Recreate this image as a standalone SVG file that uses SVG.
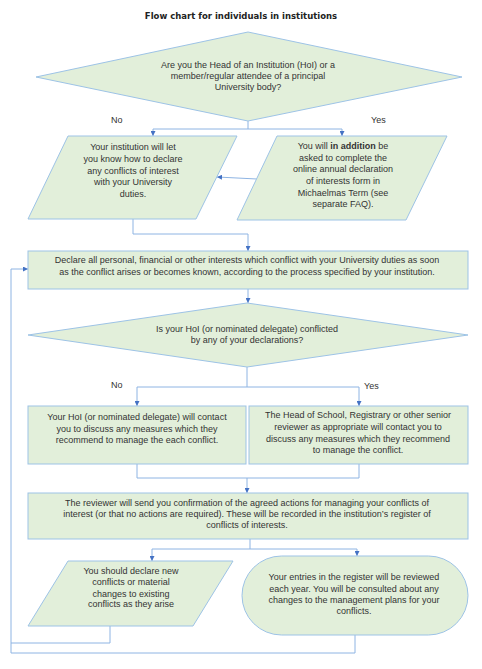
<svg xmlns="http://www.w3.org/2000/svg" width="482" height="669" viewBox="0 0 482 669">
<defs>
<marker id="ah" viewBox="0 0 10 10" refX="10" refY="5" markerWidth="5" markerHeight="5" orient="auto" markerUnits="userSpaceOnUse">
<path d="M0,0 L10,5 L0,10 Z" fill="#4472c4"/>
</marker>
<style>
.n{fill:#e2efda;stroke:#9dc3e6;stroke-width:1}
.t{font-family:"Liberation Sans",Arial,sans-serif;font-size:9px;fill:#333;text-anchor:middle}
.l{font-family:"Liberation Sans",Arial,sans-serif;font-size:9px;fill:#333}
.c{fill:none;stroke:#8eb4e3;stroke-width:1}
.a{marker-end:url(#ah)}
.title{font-family:"DejaVu Sans",Verdana,sans-serif;font-size:8.5px;font-weight:bold;fill:#222;text-anchor:middle}
</style>
</defs>
<rect width="482" height="669" fill="#fff"/>
<text class="title" x="241" y="19">Flow chart for individuals  in institutions</text>

<g id="connectors">
<path class="c" d="M248,121 V129 M153,129 H342"/>
<path class="c a" d="M153,129 V136"/>
<path class="c a" d="M342,129 V136"/>
<path class="c a" d="M257,179 L217,177"/>
<path class="c a" d="M133,219 V234 H248 V251"/>
<path class="c a" d="M248,289 V303"/>
<path class="c" d="M247,367 V387 M137,387 H359"/>
<path class="c a" d="M137,387 V406"/>
<path class="c a" d="M359,387 V406"/>
<path class="c" d="M137,464 V478 H359 V464"/>
<path class="c a" d="M247,478 V493"/>
<path class="c" d="M250,539 V549 M152,549 H357"/>
<path class="c a" d="M152,549 V561"/>
<path class="c a" d="M357,549 V556"/>
<path class="c" d="M110,626 V643 H11"/>
<path class="c a" d="M355,635 V653 H11 V269 H28"/>
</g>

<g id="q1">
<polygon class="n" points="248,32 462,77 248,121 36,77"/>
<text class="t" x="248" y="68">Are you the Head of an Institution (HoI) or a</text>
<text class="t" x="248" y="79">member/regular attendee of a principal</text>
<text class="t" x="248" y="90">University body?</text>
</g>
<text class="l" x="111" y="123">No</text>
<text class="l" x="371" y="123">Yes</text>

<g id="p1">
<polygon class="n" points="68,136 237,136 196,219 28,219"/>
<text class="t" x="133" y="150">Your institution will let</text>
<text class="t" x="133" y="162">you know how to declare</text>
<text class="t" x="133" y="173.5">any conflicts of interest</text>
<text class="t" x="133" y="185">with your University</text>
<text class="t" x="133" y="196.5">duties.</text>
</g>

<g id="p2">
<polygon class="n" points="277,136 447,136 406,220 237,220"/>
<text class="t" x="343" y="148.5">You will <tspan font-weight="bold">in addition</tspan> be</text>
<text class="t" x="343" y="160.5">asked to complete the</text>
<text class="t" x="343" y="172">online annual declaration</text>
<text class="t" x="343" y="184">of interests form in</text>
<text class="t" x="343" y="195.5">Michaelmas Term (see</text>
<text class="t" x="343" y="206.5">separate FAQ).</text>
</g>

<g id="r2">
<rect class="n" x="28" y="251" width="440" height="38"/>
<text class="t" x="247" y="263">Declare all personal, financial or other interests which conflict with your University duties as soon</text>
<text class="t" x="247" y="275">as the conflict arises or becomes known, according to the process specified by your institution.</text>
</g>

<g id="q2">
<polygon class="n" points="247,303 468,335 247,367 28,335"/>
<text class="t" x="247" y="332">Is your HoI (or nominated delegate) conflicted</text>
<text class="t" x="247" y="343">by any of your declarations?</text>
</g>
<text class="l" x="111" y="388">No</text>
<text class="l" x="364" y="389">Yes</text>

<g id="r3a">
<rect class="n" x="28" y="406" width="218" height="58"/>
<text class="t" x="137" y="420">Your HoI (or nominated delegate) will contact</text>
<text class="t" x="137" y="432">you to discuss any measures which they</text>
<text class="t" x="137" y="443">recommend to manage the each conflict.</text>
</g>

<g id="r3b">
<rect class="n" x="249" y="406" width="219" height="58"/>
<text class="t" x="358" y="418">The Head of School, Registrary or other senior</text>
<text class="t" x="358" y="430">reviewer as appropriate will contact you to</text>
<text class="t" x="358" y="442">discuss any measures which they recommend</text>
<text class="t" x="358" y="453">to manage the conflict.</text>
</g>

<g id="r4">
<rect class="n" x="28" y="493" width="440" height="46"/>
<text class="t" x="247" y="506">The reviewer will send you confirmation of the agreed actions for managing your conflicts of</text>
<text class="t" x="247" y="517">interest (or that no actions are required).  These will be recorded in the institution’s register of</text>
<text class="t" x="247" y="528">conflicts of interests.</text>
</g>

<g id="p5">
<polygon class="n" points="68,561 233,561 193,626 28,626"/>
<text class="t" x="131" y="574">You should declare new</text>
<text class="t" x="131" y="585">conflicts or material</text>
<text class="t" x="131" y="596.5">changes to existing</text>
<text class="t" x="131" y="607">conflicts as they arise</text>
</g>

<g id="s5">
<rect class="n" x="242" y="556" width="226" height="79" rx="39.5" ry="39.5"/>
<text class="t" x="354" y="580">Your entries in the register will be reviewed</text>
<text class="t" x="354" y="591.5">each year.  You will be consulted about any</text>
<text class="t" x="354" y="603">changes to the management plans for your</text>
<text class="t" x="354" y="614">conflicts.</text>
</g>
</svg>
